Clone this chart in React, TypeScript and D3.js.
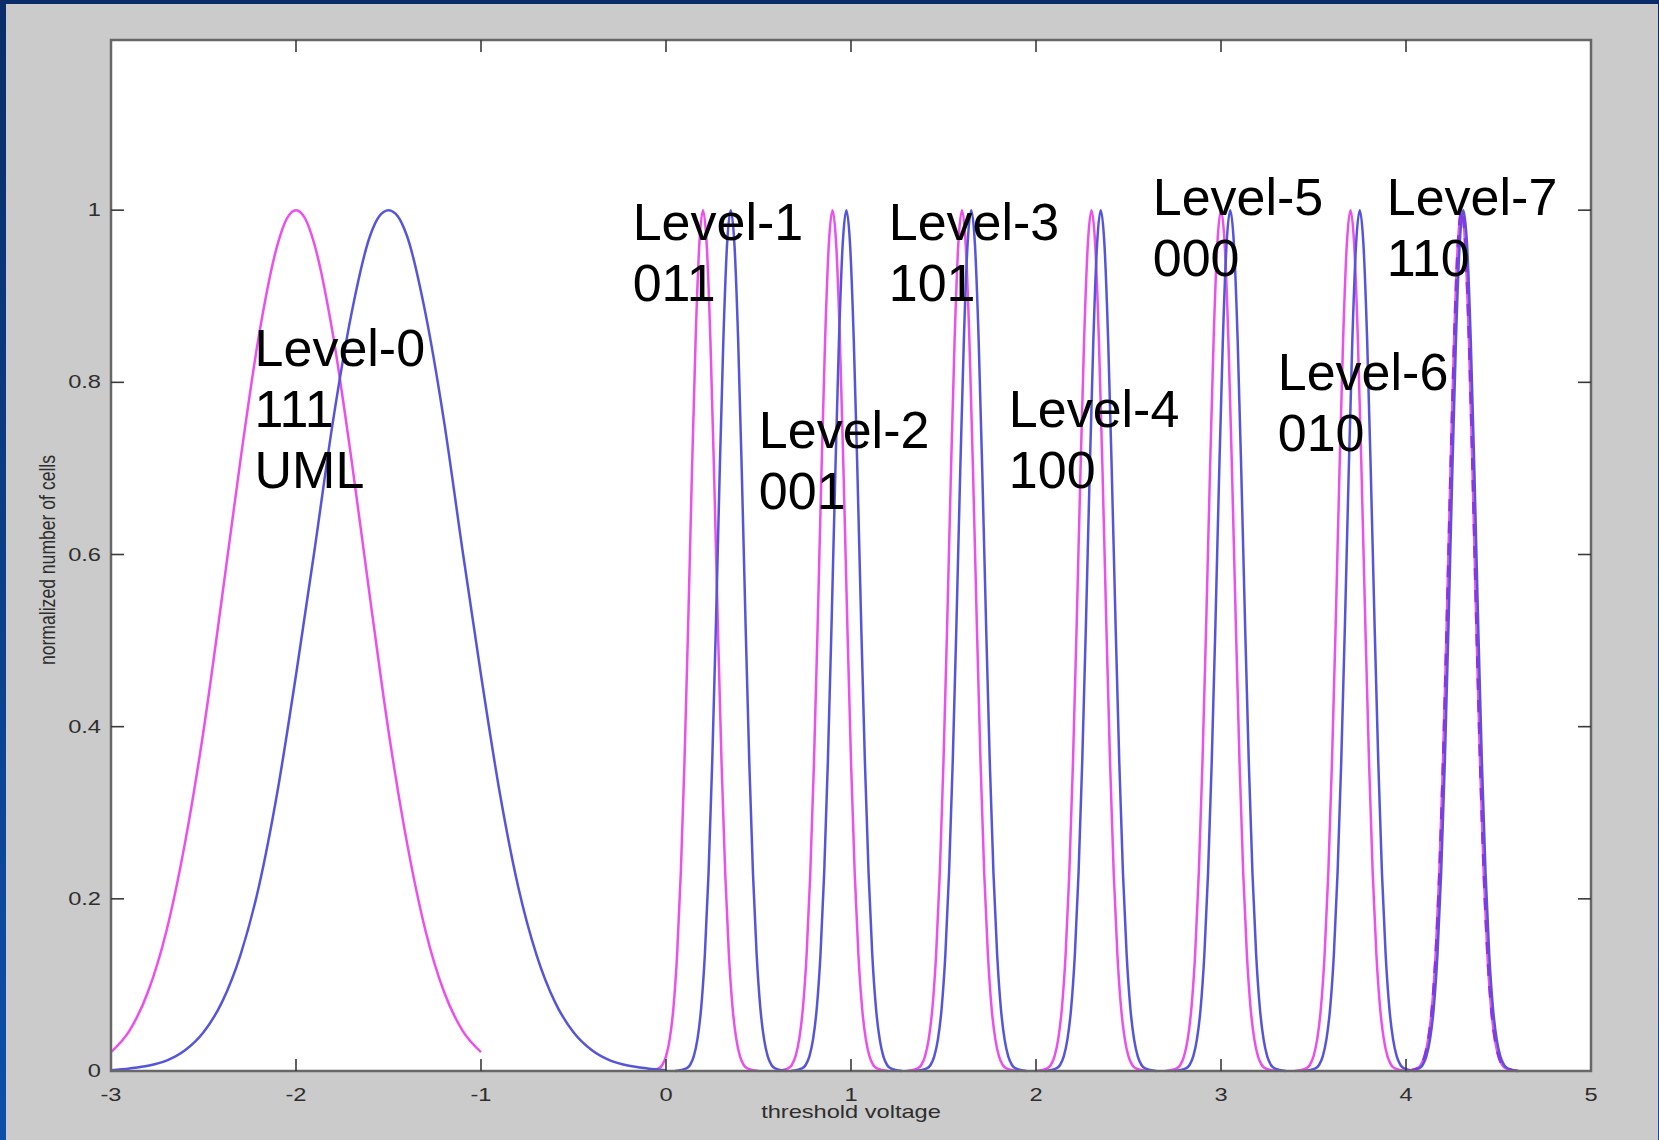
import React from 'react';
import * as d3 from 'd3';

// axis ticks
const xTicks = [-3, -2, -1, 0, 1, 2, 3, 4, 5];
const yTicks = [0, 0.2, 0.4, 0.6, 0.8, 1];
const xTitle = 'threshold voltage';
const yTitle = 'normalized number of cells';

// magenta distributions, [threshold voltage, normalized cells] per level
const magentaL0 = [[-3.0, 0.022], [-2.9, 0.047], [-2.8, 0.092], [-2.7, 0.163], [-2.6, 0.265], [-2.5, 0.395], [-2.4, 0.55], [-2.3, 0.71], [-2.2, 0.855], [-2.1, 0.96], [-2.05, 0.99], [-2.0, 1.0], [-1.95, 0.99], [-1.9, 0.96], [-1.8, 0.855], [-1.7, 0.71], [-1.6, 0.55], [-1.5, 0.395], [-1.4, 0.265], [-1.3, 0.163], [-1.2, 0.092], [-1.1, 0.047], [-1.0, 0.022]];
const magentaL1 = [[-0.1, 0], [-0.04, 0.003], [-0.02, 0.007], [0.0, 0.017], [0.02, 0.037], [0.04, 0.073], [0.06, 0.135], [0.08, 0.23], [0.1, 0.36], [0.12, 0.52], [0.14, 0.693], [0.16, 0.849], [0.18, 0.96], [0.2, 1], [0.22, 0.96], [0.24, 0.849], [0.26, 0.693], [0.28, 0.52], [0.3, 0.36], [0.32, 0.23], [0.34, 0.135], [0.36, 0.073], [0.38, 0.037], [0.4, 0.017], [0.42, 0.007], [0.44, 0.003], [0.5, 0]];
const magentaL2 = [[0.6, 0], [0.66, 0.003], [0.68, 0.007], [0.7, 0.017], [0.72, 0.037], [0.74, 0.073], [0.76, 0.135], [0.78, 0.23], [0.8, 0.36], [0.82, 0.52], [0.84, 0.693], [0.86, 0.849], [0.88, 0.96], [0.9, 1], [0.92, 0.96], [0.94, 0.849], [0.96, 0.693], [0.98, 0.52], [1.0, 0.36], [1.02, 0.23], [1.04, 0.135], [1.06, 0.073], [1.08, 0.037], [1.1, 0.017], [1.12, 0.007], [1.14, 0.003], [1.2, 0]];
const magentaL3 = [[1.3, 0], [1.36, 0.003], [1.38, 0.007], [1.4, 0.017], [1.42, 0.037], [1.44, 0.073], [1.46, 0.135], [1.48, 0.23], [1.5, 0.36], [1.52, 0.52], [1.54, 0.693], [1.56, 0.849], [1.58, 0.96], [1.6, 1], [1.62, 0.96], [1.64, 0.849], [1.66, 0.693], [1.68, 0.52], [1.7, 0.36], [1.72, 0.23], [1.74, 0.135], [1.76, 0.073], [1.78, 0.037], [1.8, 0.017], [1.82, 0.007], [1.84, 0.003], [1.9, 0]];
const magentaL4 = [[2.0, 0], [2.06, 0.003], [2.08, 0.007], [2.1, 0.017], [2.12, 0.037], [2.14, 0.073], [2.16, 0.135], [2.18, 0.23], [2.2, 0.36], [2.22, 0.52], [2.24, 0.693], [2.26, 0.849], [2.28, 0.96], [2.3, 1], [2.32, 0.96], [2.34, 0.849], [2.36, 0.693], [2.38, 0.52], [2.4, 0.36], [2.42, 0.23], [2.44, 0.135], [2.46, 0.073], [2.48, 0.037], [2.5, 0.017], [2.52, 0.007], [2.54, 0.003], [2.6, 0]];
const magentaL5 = [[2.7, 0], [2.76, 0.003], [2.78, 0.007], [2.8, 0.017], [2.82, 0.037], [2.84, 0.073], [2.86, 0.135], [2.88, 0.23], [2.9, 0.36], [2.92, 0.52], [2.94, 0.693], [2.96, 0.849], [2.98, 0.96], [3.0, 1], [3.02, 0.96], [3.04, 0.849], [3.06, 0.693], [3.08, 0.52], [3.1, 0.36], [3.12, 0.23], [3.14, 0.135], [3.16, 0.073], [3.18, 0.037], [3.2, 0.017], [3.22, 0.007], [3.24, 0.003], [3.3, 0]];
const magentaL6 = [[3.4, 0], [3.46, 0.003], [3.48, 0.007], [3.5, 0.017], [3.52, 0.037], [3.54, 0.073], [3.56, 0.135], [3.58, 0.23], [3.6, 0.36], [3.62, 0.52], [3.64, 0.693], [3.66, 0.849], [3.68, 0.96], [3.7, 1], [3.72, 0.96], [3.74, 0.849], [3.76, 0.693], [3.78, 0.52], [3.8, 0.36], [3.82, 0.23], [3.84, 0.135], [3.86, 0.073], [3.88, 0.037], [3.9, 0.017], [3.92, 0.007], [3.94, 0.003], [4.0, 0]];
const magentaL7 = [[4.0, 0], [4.06, 0.003], [4.08, 0.007], [4.1, 0.017], [4.12, 0.037], [4.14, 0.073], [4.16, 0.135], [4.18, 0.23], [4.2, 0.36], [4.22, 0.52], [4.24, 0.693], [4.26, 0.849], [4.28, 0.96], [4.3, 1], [4.32, 0.96], [4.34, 0.849], [4.36, 0.693], [4.38, 0.52], [4.4, 0.36], [4.42, 0.23], [4.44, 0.135], [4.46, 0.073], [4.48, 0.037], [4.5, 0.017], [4.52, 0.007], [4.54, 0.003], [4.6, 0]];

// blue distributions
const blueL0 = [[-3.0, 0.001], [-2.9, 0.003], [-2.8, 0.006], [-2.7, 0.012], [-2.6, 0.024], [-2.5, 0.045], [-2.4, 0.08], [-2.3, 0.135], [-2.2, 0.215], [-2.1, 0.325], [-2.0, 0.46], [-1.9, 0.605], [-1.8, 0.755], [-1.7, 0.88], [-1.6, 0.97], [-1.55, 0.993], [-1.5, 1.0], [-1.45, 0.993], [-1.4, 0.97], [-1.3, 0.88], [-1.2, 0.755], [-1.1, 0.605], [-1.0, 0.46], [-0.9, 0.325], [-0.8, 0.215], [-0.7, 0.135], [-0.6, 0.08], [-0.5, 0.045], [-0.4, 0.024], [-0.3, 0.012], [-0.2, 0.006], [-0.1, 0.003], [0.0, 0.001]];
const blueL1 = [[0.05, 0], [0.11, 0.003], [0.13, 0.007], [0.15, 0.017], [0.17, 0.037], [0.19, 0.073], [0.21, 0.135], [0.23, 0.23], [0.25, 0.36], [0.27, 0.52], [0.29, 0.693], [0.31, 0.849], [0.33, 0.96], [0.35, 1], [0.37, 0.96], [0.39, 0.849], [0.41, 0.693], [0.43, 0.52], [0.45, 0.36], [0.47, 0.23], [0.49, 0.135], [0.51, 0.073], [0.53, 0.037], [0.55, 0.017], [0.57, 0.007], [0.59, 0.003], [0.65, 0]];
const blueL2 = [[0.675, 0], [0.735, 0.003], [0.755, 0.007], [0.775, 0.017], [0.795, 0.037], [0.815, 0.073], [0.835, 0.135], [0.855, 0.23], [0.875, 0.36], [0.895, 0.52], [0.915, 0.693], [0.935, 0.849], [0.955, 0.96], [0.975, 1], [0.995, 0.96], [1.015, 0.849], [1.035, 0.693], [1.055, 0.52], [1.075, 0.36], [1.095, 0.23], [1.115, 0.135], [1.135, 0.073], [1.155, 0.037], [1.175, 0.017], [1.195, 0.007], [1.215, 0.003], [1.275, 0]];
const blueL3 = [[1.35, 0], [1.41, 0.003], [1.43, 0.007], [1.45, 0.017], [1.47, 0.037], [1.49, 0.073], [1.51, 0.135], [1.53, 0.23], [1.55, 0.36], [1.57, 0.52], [1.59, 0.693], [1.61, 0.849], [1.63, 0.96], [1.65, 1], [1.67, 0.96], [1.69, 0.849], [1.71, 0.693], [1.73, 0.52], [1.75, 0.36], [1.77, 0.23], [1.79, 0.135], [1.81, 0.073], [1.83, 0.037], [1.85, 0.017], [1.87, 0.007], [1.89, 0.003], [1.95, 0]];
const blueL4 = [[2.05, 0], [2.11, 0.003], [2.13, 0.007], [2.15, 0.017], [2.17, 0.037], [2.19, 0.073], [2.21, 0.135], [2.23, 0.23], [2.25, 0.36], [2.27, 0.52], [2.29, 0.693], [2.31, 0.849], [2.33, 0.96], [2.35, 1], [2.37, 0.96], [2.39, 0.849], [2.41, 0.693], [2.43, 0.52], [2.45, 0.36], [2.47, 0.23], [2.49, 0.135], [2.51, 0.073], [2.53, 0.037], [2.55, 0.017], [2.57, 0.007], [2.59, 0.003], [2.65, 0]];
const blueL5 = [[2.75, 0], [2.81, 0.003], [2.83, 0.007], [2.85, 0.017], [2.87, 0.037], [2.89, 0.073], [2.91, 0.135], [2.93, 0.23], [2.95, 0.36], [2.97, 0.52], [2.99, 0.693], [3.01, 0.849], [3.03, 0.96], [3.05, 1], [3.07, 0.96], [3.09, 0.849], [3.11, 0.693], [3.13, 0.52], [3.15, 0.36], [3.17, 0.23], [3.19, 0.135], [3.21, 0.073], [3.23, 0.037], [3.25, 0.017], [3.27, 0.007], [3.29, 0.003], [3.35, 0]];
const blueL6 = [[3.45, 0], [3.51, 0.003], [3.53, 0.007], [3.55, 0.017], [3.57, 0.037], [3.59, 0.073], [3.61, 0.135], [3.63, 0.23], [3.65, 0.36], [3.67, 0.52], [3.69, 0.693], [3.71, 0.849], [3.73, 0.96], [3.75, 1], [3.77, 0.96], [3.79, 0.849], [3.81, 0.693], [3.83, 0.52], [3.85, 0.36], [3.87, 0.23], [3.89, 0.135], [3.91, 0.073], [3.93, 0.037], [3.95, 0.017], [3.97, 0.007], [3.99, 0.003], [4.05, 0]];
const blueL7 = [[4.01, 0], [4.07, 0.003], [4.09, 0.007], [4.11, 0.017], [4.13, 0.037], [4.15, 0.073], [4.17, 0.135], [4.19, 0.23], [4.21, 0.36], [4.23, 0.52], [4.25, 0.693], [4.27, 0.849], [4.29, 0.96], [4.31, 1], [4.33, 0.96], [4.35, 0.849], [4.37, 0.693], [4.39, 0.52], [4.41, 0.36], [4.43, 0.23], [4.45, 0.135], [4.47, 0.073], [4.49, 0.037], [4.51, 0.017], [4.53, 0.007], [4.55, 0.003], [4.61, 0]];

const magentaLevels = [magentaL0, magentaL1, magentaL2, magentaL3, magentaL4, magentaL5, magentaL6, magentaL7];
const blueLevels = [blueL0, blueL1, blueL2, blueL3, blueL4, blueL5, blueL6, blueL7];

// level annotations
const levelNames = ['Level-0', 'Level-1', 'Level-2', 'Level-3', 'Level-4', 'Level-5', 'Level-6', 'Level-7'];
const levelCodes = ['111', '011', '001', '101', '100', '000', '010', '110'];
const levelNotes = ['UML', '', '', '', '', '', '', ''];
// where each annotation sits, in (volts, normalized) units
const levelLabelAt = [[-2.224, 0.819], [-0.18, 0.965], [0.502, 0.724], [1.204, 0.965], [1.853, 0.748], [2.631, 0.994], [3.307, 0.791], [3.896, 0.994]];

const W = 1659;
const H = 1140;
const plot = { left: 111, top: 38, right: 1591, bottom: 1071 };
const tickFont = 'Liberation Sans, Arial, Helvetica, sans-serif';

const App = () => {
   const x = d3.scaleLinear().domain([-3, 5]).range([plot.left, plot.right]);
   const y = d3.scaleLinear().domain([0, 1.2]).range([plot.bottom, plot.top]);
   const line = d3.line<number[]>()
      .x(d => x(d[0]))
      .y(d => y(d[1]))
      .curve(d3.curveMonotoneX);

   const boxTop = 40;

   return (
      <div style={{ position: 'absolute', left: 0, top: 0 }}>
         <svg width={W} height={H} style={{ display: 'block' }}>
            <defs>
               <linearGradient id="frame" x1="0" y1="0" x2="0" y2="1">
                  <stop offset="0" stopColor="#0a2d69" />
                  <stop offset="1" stopColor="#0c50aa" />
               </linearGradient>
            </defs>

            {/* slide background */}
            <rect x={0} y={0} width={W} height={H} fill="#cbcbcb" />
            <rect x={0} y={0} width={W} height={4} fill="#0a2d69" />
            <rect x={0} y={0} width={6} height={H} fill="url(#frame)" />
            <rect x={W - 1} y={0} width={1} height={H} fill="url(#frame)" />

            {/* plot box */}
            <rect
               x={plot.left}
               y={boxTop}
               width={plot.right - plot.left}
               height={plot.bottom - boxTop}
               fill="#ffffff"
            />

            {/* curves */}
            <g fill="none" strokeWidth={2.5} strokeLinejoin="round">
               {magentaLevels.map((d, i) => (
                  <path key={'m' + i} d={line(d) || ''} stroke="#ec50ec" />
               ))}
               {blueLevels.map((d, i) => (
                  <path key={'b' + i} d={line(d) || ''} stroke="#5555dc" />
               ))}
               <path d={line(magentaL7) || ''} stroke="#9430e4" strokeDasharray="12 10" />
            </g>

            <rect
               x={plot.left}
               y={boxTop}
               width={plot.right - plot.left}
               height={plot.bottom - boxTop}
               fill="none"
               stroke="#676767"
               strokeWidth={2.5}
            />

            {/* ticks, pointing inward on all four sides */}
            <g stroke="#3a3a3a" strokeWidth={1.6}>
               {xTicks.slice(1, -1).map(t => (
                  <g key={'xt' + t}>
                     <line x1={x(t)} x2={x(t)} y1={plot.bottom} y2={plot.bottom - 12} />
                     <line x1={x(t)} x2={x(t)} y1={boxTop} y2={boxTop + 12} />
                  </g>
               ))}
               {yTicks.slice(1).map(t => (
                  <g key={'yt' + t}>
                     <line x1={plot.left} x2={plot.left + 13} y1={y(t)} y2={y(t)} />
                     <line x1={plot.right} x2={plot.right - 13} y1={y(t)} y2={y(t)} />
                  </g>
               ))}
            </g>

            {/* tick labels */}
            <g fill="#2e2e2e" fontFamily={tickFont} fontSize={17.5}>
               {xTicks.map(t => (
                  <text
                     key={'xl' + t}
                     transform={`translate(${x(t)},1101) scale(1.35,1)`}
                     textAnchor="middle"
                  >
                     {String(t)}
                  </text>
               ))}
               {yTicks.map(t => (
                  <text
                     key={'yl' + t}
                     transform={`translate(101,${y(t) + 6}) scale(1.35,1)`}
                     textAnchor="end"
                  >
                     {String(t)}
                  </text>
               ))}
               <text
                  transform={`translate(${(plot.left + plot.right) / 2},1118) scale(1.35,1)`}
                  textAnchor="middle"
               >
                  {xTitle}
               </text>
               <text
                  transform={`translate(55,560) rotate(-90) scale(1,1.25)`}
                  textAnchor="middle"
                  fontSize={17.6}
               >
                  {yTitle}
               </text>
            </g>

            {/* level annotations */}
            <g fill="#000" fontFamily={tickFont} fontSize={52}>
               {levelNames.map((name, i) => {
                  const lx = x(levelLabelAt[i][0]);
                  const ly = y(levelLabelAt[i][1]);
                  return (
                     <text key={name} x={lx} y={ly}>
                        <tspan x={lx} y={ly}>{name}</tspan>
                        <tspan x={lx} y={ly + 61}>{levelCodes[i]}</tspan>
                        {levelNotes[i] && <tspan x={lx} y={ly + 122}>{levelNotes[i]}</tspan>}
                     </text>
                  );
               })}
            </g>
         </svg>
      </div>
   );
};

export default App;
